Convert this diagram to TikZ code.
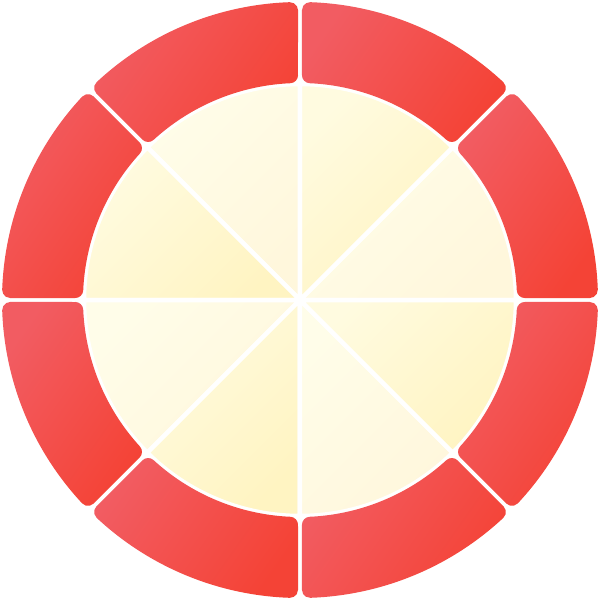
\documentclass[tikz,border=0pt]{standalone}
\definecolor{ringlight}{HTML}{F25C62}
\definecolor{ringdark}{HTML}{F44336}
\definecolor{pieAlight}{HTML}{FFFDE9}
\definecolor{pieAdark}{HTML}{FFF7DC}
\definecolor{pieBlight}{HTML}{FFFBE0}
\definecolor{pieBdark}{HTML}{FFF4C2}
\tikzset{
  ringseg/.style={top color=ringlight, bottom color=ringdark, shading angle=55, draw=none},
  sliceA/.style={top color=pieAlight, bottom color=pieAdark, shading angle=45, draw=white, line width=0.45cm},
  sliceB/.style={top color=pieBlight, bottom color=pieBdark, shading angle=45, draw=white, line width=0.45cm},
}
\begin{document}
\begin{tikzpicture}
\useasboundingbox (-30,-30) rectangle (30,30);
\fill[white] (-30,-30) rectangle (30,30);
\def\Rout{29.8}
\def\Rin{21.7}
\def\Gp{0.2}
\def\Cr{0.8}
\def\Rp{21.6}
\pgfmathsetmacro\xO{sqrt((\Rout-\Cr)^2-(\Gp+\Cr)^2)}
\pgfmathsetmacro\xI{sqrt((\Rin+\Cr)^2-(\Gp+\Cr)^2)}
\pgfmathsetmacro\tO{atan2(\Gp+\Cr,\xO)}
\pgfmathsetmacro\tI{atan2(\Gp+\Cr,\xI)}
\pgfmathsetmacro\rhoO{sqrt(\xO^2+\Gp^2)}
\pgfmathsetmacro\rhoI{sqrt(\xI^2+\Gp^2)}
\pgfmathsetmacro\phiO{atan2(\Gp,\xO)}
\pgfmathsetmacro\phiI{atan2(\Gp,\xI)}
% pie slices
\foreach \k in {0,...,7}{
  \pgfmathsetmacro\aA{45*\k}
  \pgfmathsetmacro\aB{45*\k+45}
  \pgfmathtruncatemacro\odd{mod(\k,2)}
  \ifnum\odd=1
    \path[sliceB] (0,0) -- (\aA:\Rp) arc[start angle=\aA, end angle=\aB, radius=\Rp] -- cycle;
  \else
    \path[sliceA] (0,0) -- (\aA:\Rp) arc[start angle=\aA, end angle=\aB, radius=\Rp] -- cycle;
  \fi
}
% ring segments
\foreach \k in {0,...,7}{
  \pgfmathsetmacro\aA{45*\k}
  \pgfmathsetmacro\aB{45*\k+45}
  \pgfmathsetmacro\pA{\aA+\phiI}
  \pgfmathsetmacro\pB{\aA+\phiO}
  \pgfmathsetmacro\cAs{\aA-90}
  \pgfmathsetmacro\cAe{\aA+\tO}
  \pgfmathsetmacro\oE{\aB-\tO}
  \pgfmathsetmacro\cBe{\aB+90}
  \pgfmathsetmacro\pC{\aB-\phiI}
  \pgfmathsetmacro\cCe{\aB+180-\tI}
  \pgfmathsetmacro\iS{\aB-\tI}
  \pgfmathsetmacro\iE{\aA+\tI}
  \pgfmathsetmacro\cDs{\aA+\tI+180}
  \pgfmathsetmacro\cDe{\aA+270}
  \path[ringseg] (\pA:\rhoI) -- (\pB:\rhoO)
    arc[start angle=\cAs, end angle=\cAe, radius=\Cr]
    arc[start angle=\cAe, end angle=\oE, radius=\Rout]
    arc[start angle=\oE, end angle=\cBe, radius=\Cr]
    -- (\pC:\rhoI)
    arc[start angle=\cBe, end angle=\cCe, radius=\Cr]
    arc[start angle=\iS, end angle=\iE, radius=\Rin]
    arc[start angle=\cDs, end angle=\cDe, radius=\Cr]
    -- cycle;
}
\end{tikzpicture}
\end{document}
